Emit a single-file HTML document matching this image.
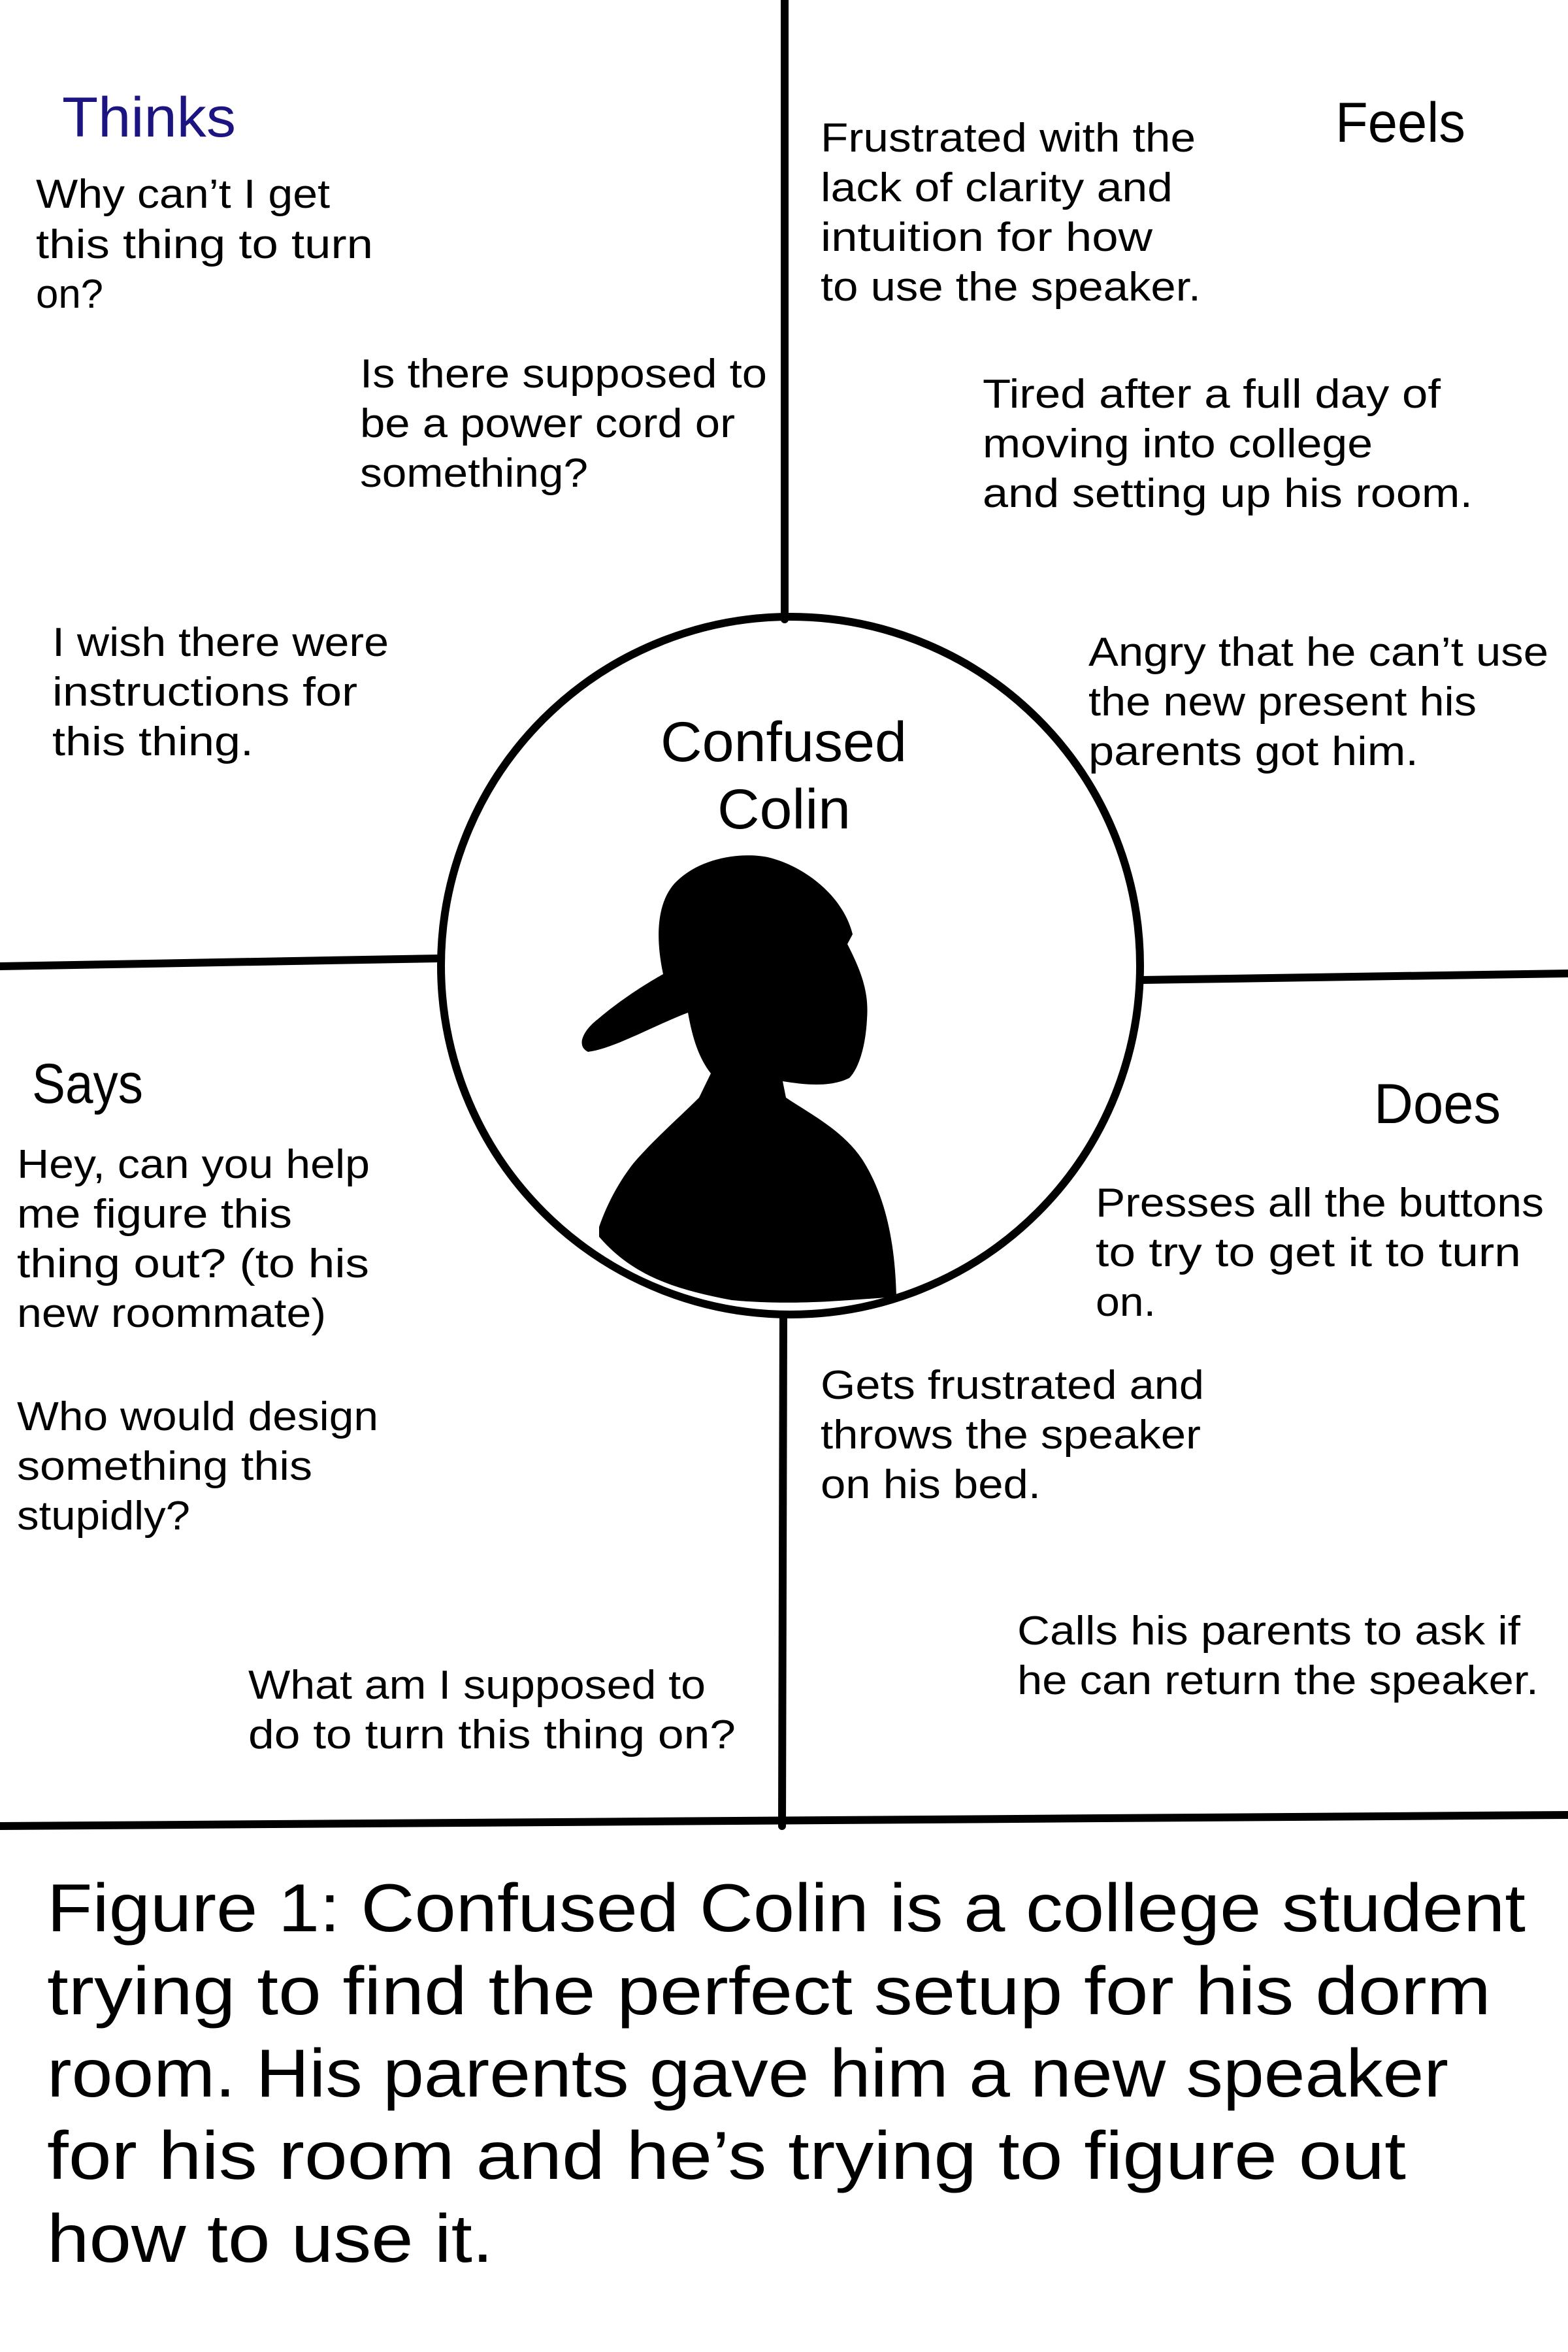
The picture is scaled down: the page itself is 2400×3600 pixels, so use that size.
<!DOCTYPE html>
<html><head><meta charset="utf-8"><style>
html,body{margin:0;padding:0;background:#fff;}
svg{display:block;}
text{font-family:"Liberation Sans",sans-serif;fill:#000;}
</style></head><body>
<svg width="2400" height="3600" viewBox="0 0 2400 3600" xmlns="http://www.w3.org/2000/svg">
<rect width="2400" height="3600" fill="#fff"/>
<g stroke="#000" stroke-width="12" fill="none" stroke-linecap="round">
<line x1="1201" y1="0" x2="1201" y2="948"/>
<line x1="0" y1="1479" x2="672" y2="1467"/>
<line x1="1748" y1="1500" x2="2400" y2="1490"/>
<line x1="1199" y1="2012" x2="1197" y2="2795"/>
<line x1="0" y1="2795" x2="2400" y2="2778"/>
<ellipse cx="1210" cy="1478" rx="535" ry="534"/>
</g>
<path fill="#000" d="M1015,1491 C1000,1420 1010,1370 1040,1345 C1080,1310 1140,1305 1175,1312 C1230,1325 1290,1370 1305,1430 L1297,1445 C1320,1490 1330,1520 1327,1560 C1325,1600 1315,1635 1300,1650 C1270,1665 1230,1660 1198,1655 L1203,1680 C1240,1705 1290,1730 1320,1775 C1355,1830 1370,1900 1372,1985 L1300,1990 C1230,1995 1170,1995 1120,1990 C1040,1975 970,1955 917,1893 L917,1878 C930,1840 950,1805 970,1780 C1000,1745 1040,1710 1070,1680 L1088,1643 C1070,1620 1060,1590 1053,1550 C1000,1570 940,1605 900,1610 C880,1600 895,1575 915,1560 C950,1530 990,1505 1015,1491 Z"/>
<g font-size="62" lengthAdjust="spacingAndGlyphs">
<text x="55" y="318" textLength="450" lengthAdjust="spacingAndGlyphs">Why can’t I get</text>
<text x="55" y="395" textLength="516" lengthAdjust="spacingAndGlyphs">this thing to turn</text>
<text x="55" y="471" textLength="103" lengthAdjust="spacingAndGlyphs">on?</text>

<text x="551" y="593" textLength="623" lengthAdjust="spacingAndGlyphs">Is there supposed to</text>
<text x="551" y="669" textLength="574" lengthAdjust="spacingAndGlyphs">be a power cord or</text>
<text x="551" y="745" textLength="349" lengthAdjust="spacingAndGlyphs">something?</text>

<text x="80" y="1004" textLength="515" lengthAdjust="spacingAndGlyphs">I wish there were</text>
<text x="80" y="1080" textLength="467" lengthAdjust="spacingAndGlyphs">instructions for</text>
<text x="80" y="1156" textLength="308" lengthAdjust="spacingAndGlyphs">this thing.</text>

<text x="1256" y="232" textLength="574" lengthAdjust="spacingAndGlyphs">Frustrated with the</text>
<text x="1256" y="308" textLength="539" lengthAdjust="spacingAndGlyphs">lack of clarity and</text>
<text x="1256" y="384" textLength="508" lengthAdjust="spacingAndGlyphs">intuition for how</text>
<text x="1256" y="460" textLength="582" lengthAdjust="spacingAndGlyphs">to use the speaker.</text>

<text x="1504" y="624" textLength="701" lengthAdjust="spacingAndGlyphs">Tired after a full day of</text>
<text x="1504" y="700" textLength="597" lengthAdjust="spacingAndGlyphs">moving into college</text>
<text x="1504" y="776" textLength="750" lengthAdjust="spacingAndGlyphs">and setting up his room.</text>

<text x="1666" y="1019" textLength="704" lengthAdjust="spacingAndGlyphs">Angry that he can’t use</text>
<text x="1666" y="1095" textLength="594" lengthAdjust="spacingAndGlyphs">the new present his</text>
<text x="1666" y="1171" textLength="505" lengthAdjust="spacingAndGlyphs">parents got him.</text>

<text x="26" y="1803" textLength="540" lengthAdjust="spacingAndGlyphs">Hey, can you help</text>
<text x="26" y="1879" textLength="421" lengthAdjust="spacingAndGlyphs">me figure this</text>
<text x="26" y="1955" textLength="539" lengthAdjust="spacingAndGlyphs">thing out? (to his</text>
<text x="26" y="2031" textLength="473" lengthAdjust="spacingAndGlyphs">new roommate)</text>

<text x="26" y="2189" textLength="553" lengthAdjust="spacingAndGlyphs">Who would design</text>
<text x="26" y="2265" textLength="452" lengthAdjust="spacingAndGlyphs">something this</text>
<text x="26" y="2341" textLength="265" lengthAdjust="spacingAndGlyphs">stupidly?</text>

<text x="380" y="2600" textLength="700" lengthAdjust="spacingAndGlyphs">What am I supposed to</text>
<text x="380" y="2676" textLength="746" lengthAdjust="spacingAndGlyphs">do to turn this thing on?</text>

<text x="1677" y="1862" textLength="686" lengthAdjust="spacingAndGlyphs">Presses all the buttons</text>
<text x="1677" y="1938" textLength="651" lengthAdjust="spacingAndGlyphs">to try to get it to turn</text>
<text x="1677" y="2014" textLength="92" lengthAdjust="spacingAndGlyphs">on.</text>

<text x="1256" y="2141" textLength="587" lengthAdjust="spacingAndGlyphs">Gets frustrated and</text>
<text x="1256" y="2217" textLength="582" lengthAdjust="spacingAndGlyphs">throws the speaker</text>
<text x="1256" y="2293" textLength="337" lengthAdjust="spacingAndGlyphs">on his bed.</text>

<text x="1557" y="2517" textLength="770" lengthAdjust="spacingAndGlyphs">Calls his parents to ask if</text>
<text x="1557" y="2593" textLength="798" lengthAdjust="spacingAndGlyphs">he can return the speaker.</text>
</g>
<g font-size="86">
<text x="95" y="209" textLength="266" lengthAdjust="spacingAndGlyphs" style="fill:#1c1480">Thinks</text>
<text x="2044" y="217" textLength="199" lengthAdjust="spacingAndGlyphs">Feels</text>
<text x="49" y="1688" textLength="170" lengthAdjust="spacingAndGlyphs">Says</text>
<text x="2103" y="1719" textLength="194" lengthAdjust="spacingAndGlyphs">Does</text>
<text x="1011" y="1165" textLength="377" lengthAdjust="spacingAndGlyphs">Confused</text>
<text x="1098" y="1268" textLength="204" lengthAdjust="spacingAndGlyphs">Colin</text>
</g>
<g font-size="104">
<text x="72" y="2956" textLength="2263" lengthAdjust="spacingAndGlyphs">Figure 1: Confused Colin is a college student</text>
<text x="72" y="3083" textLength="2210" lengthAdjust="spacingAndGlyphs">trying to find the perfect setup for his dorm</text>
<text x="72" y="3209" textLength="2145" lengthAdjust="spacingAndGlyphs">room. His parents gave him a new speaker</text>
<text x="72" y="3335" textLength="2080" lengthAdjust="spacingAndGlyphs">for his room and he’s trying to figure out</text>
<text x="72" y="3462" textLength="683" lengthAdjust="spacingAndGlyphs">how to use it.</text>
</g>
</svg>
</body></html>
